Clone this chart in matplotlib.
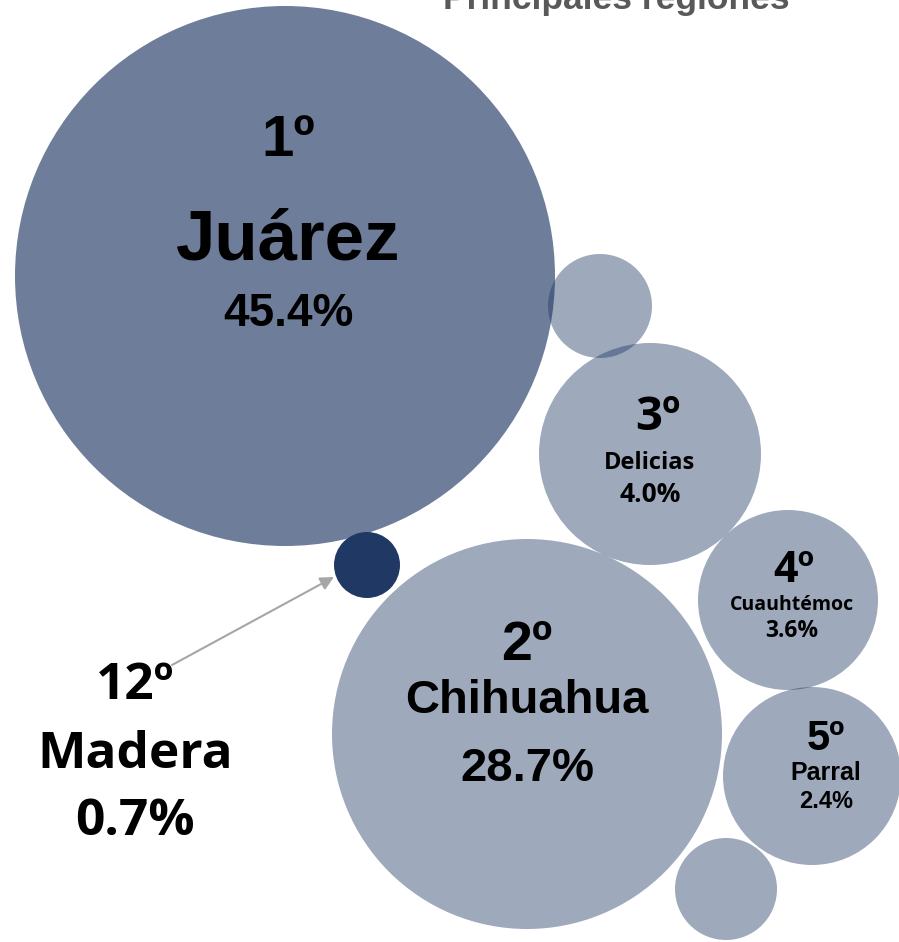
import matplotlib
matplotlib.use("Agg")
import matplotlib.pyplot as plt
from matplotlib.patches import Circle

# datos: lugar, región, participación (%)
ranks = ["1º", "2º", "3º", "4º", "5º", "12º"]
regions = ["Juárez", "Chihuahua", "Delicias", "Cuauhtémoc", "Parral", "Madera"]
shares = [45.4, 28.7, 4.0, 3.6, 2.4, 0.7]

# disposición de las burbujas (px): centro x, centro y, radio
bubble_x = [285, 527, 650, 788, 812, 367]
bubble_y = [276, 734, 454, 600, 776, 565]
bubble_r = [270, 195, 111, 90, 89, 33]
# burbujas sin etiqueta
extra_x = [600, 726]
extra_y = [306, 889]
extra_r = [52, 51]

base = "#203864"
W, H = 899, 942
fig = plt.figure(figsize=(W / 100, H / 100), dpi=100)
ax = fig.add_axes([0, 0, 1, 1])
ax.set_xlim(0, W)
ax.set_ylim(H, 0)
ax.set_aspect("equal")
ax.axis("off")

for i, (x, y, r) in enumerate(zip(bubble_x, bubble_y, bubble_r)):
    if regions[i] == "Madera":
        ax.add_patch(Circle((x, y), r, color=base, alpha=1.0, lw=0))
    else:
        a = 0.65 if i == 0 else 0.43
        ax.add_patch(Circle((x, y), r, color=base, alpha=a, lw=0))
for x, y, r in zip(extra_x, extra_y, extra_r):
    ax.add_patch(Circle((x, y), r, color=base, alpha=0.43, lw=0))

arial = "Liberation Sans"
cal = "Open Sans"

# textos dentro de las burbujas: (texto, y, tamaño) por renglón
def label(x, lines, fam):
    for txt, y, size in lines:
        ax.text(x, y, txt, ha="center", va="center", fontsize=size,
                fontweight="bold", family=fam, color="black")

label(bubble_x[0] + 3, [(ranks[0], 141, 42), (regions[0], 242, 51),
                        (f"{shares[0]:.1f}%", 314, 33)], arial)
label(bubble_x[1], [(ranks[1], 646, 40), (regions[1], 701, 34),
                    (f"{shares[1]:.1f}%", 769, 34)], arial)
label(bubble_x[2] + 8, [(ranks[2], 417, 34)], cal)
label(bubble_x[2], [(regions[2], 463, 17), (f"{shares[2]:.1f}%", 494, 19)], cal)
label(bubble_x[3] + 6, [(ranks[3], 571, 31)], cal)
label(bubble_x[3] + 4, [(regions[3], 605, 14), (f"{shares[3]:.1f}%", 631, 16.5)], cal)
label(bubble_x[4] + 14, [(ranks[4], 739, 30), (regions[4], 773, 18),
                         (f"{shares[4]:.1f}%", 801, 17)], arial)
label(135, [(ranks[5], 686, 37), (regions[5], 755, 37),
            (f"{shares[5]:.1f}%", 822, 37)], cal)

ax.annotate("", xy=(bubble_x[5] - bubble_r[5], bubble_y[5] + 12), xytext=(172, 665),
            arrowprops=dict(arrowstyle="-|>", color="#A6A6A6", lw=1.5,
                            mutation_scale=20, shrinkA=0, shrinkB=0))

ax.text(616, 9, "Principales regiones", ha="center", va="baseline", fontsize=25.5,
        fontweight="bold", family=arial, color="#595959")

fig.savefig("out.png", dpi=100)
